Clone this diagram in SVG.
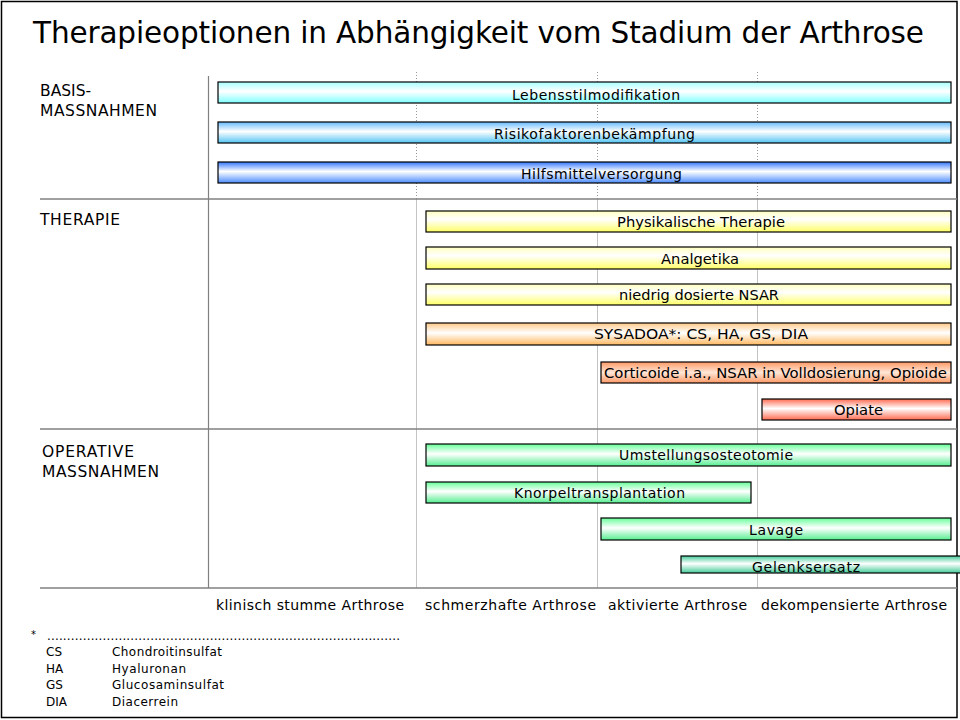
<svg xmlns="http://www.w3.org/2000/svg" width="960" height="720" viewBox="0 0 960 720">
<style>
text{font-family:"DejaVu Sans","Verdana",sans-serif;fill:#000}
.title{font-size:29.5px}
.sec{font-size:15.5px}
.bl{font-size:14px;text-anchor:middle}
.st{font-size:14px}
.lg{font-size:12px}
.bar{stroke:#000;stroke-width:1.2}
.sep{stroke:#808080;stroke-width:1.5}
.dot{stroke:#9a9a9a;stroke-width:1;stroke-dasharray:1 2}
.vl{stroke:#c4c4c4;stroke-width:1}
</style>
<defs>
<linearGradient id="gCyan" x1="0" y1="0" x2="0" y2="1"><stop offset="0" stop-color="#a8ffff"/><stop offset="0.45" stop-color="#ffffff"/><stop offset="1" stop-color="#80ffff"/></linearGradient>
<linearGradient id="gLBlue" x1="0" y1="0" x2="0" y2="1"><stop offset="0" stop-color="#66bbff"/><stop offset="0.45" stop-color="#ffffff"/><stop offset="1" stop-color="#55c4f4"/></linearGradient>
<linearGradient id="gBlue" x1="0" y1="0" x2="0" y2="1"><stop offset="0" stop-color="#3377ff"/><stop offset="0.45" stop-color="#ffffff"/><stop offset="1" stop-color="#4d8dff"/></linearGradient>
<linearGradient id="gYellow" x1="0" y1="0" x2="0" y2="1"><stop offset="0" stop-color="#ffffc0"/><stop offset="0.4" stop-color="#ffffff"/><stop offset="1" stop-color="#ffff66"/></linearGradient>
<linearGradient id="gOrange" x1="0" y1="0" x2="0" y2="1"><stop offset="0" stop-color="#ffc888"/><stop offset="0.45" stop-color="#ffffff"/><stop offset="1" stop-color="#ffb860"/></linearGradient>
<linearGradient id="gSalmon" x1="0" y1="0" x2="0" y2="1"><stop offset="0" stop-color="#ff9966"/><stop offset="0.5" stop-color="#ffe6d6"/><stop offset="1" stop-color="#ff9966"/></linearGradient>
<linearGradient id="gRed" x1="0" y1="0" x2="0" y2="1"><stop offset="0" stop-color="#ff6a50"/><stop offset="0.45" stop-color="#ffffff"/><stop offset="1" stop-color="#ff6a50"/></linearGradient>
<linearGradient id="gGreen" x1="0" y1="0" x2="0" y2="1"><stop offset="0" stop-color="#66ff99"/><stop offset="0.45" stop-color="#ffffff"/><stop offset="1" stop-color="#55ee90"/></linearGradient>
<linearGradient id="gTeal" x1="0" y1="0" x2="0" y2="1"><stop offset="0" stop-color="#44cc99"/><stop offset="0.45" stop-color="#ffffff"/><stop offset="1" stop-color="#44cc99"/></linearGradient>
</defs>
<rect x="0" y="0" width="960" height="720" fill="#fff"/>
<rect x="1.5" y="1.5" width="955.5" height="716" fill="none" stroke="#000" stroke-width="1.5"/>
<text class="title" x="33" y="43" textLength="891" lengthAdjust="spacing">Therapieoptionen  in Abhängigkeit vom Stadium der Arthrose</text>

<g id="grid">
<line class="dot" x1="416.5" y1="72" x2="416.5" y2="199"/>
<line class="dot" x1="597.5" y1="72" x2="597.5" y2="199"/>
<line class="dot" x1="757.5" y1="72" x2="757.5" y2="199"/>
<line class="vl" x1="416.5" y1="199" x2="416.5" y2="588"/>
<line class="vl" x1="597.5" y1="199" x2="597.5" y2="588"/>
<line class="vl" x1="757.5" y1="199" x2="757.5" y2="588"/>
<line x1="208.5" y1="76" x2="208.5" y2="588" stroke="#808080" stroke-width="1.2"/>
<line class="sep" x1="40" y1="199" x2="957" y2="199"/>
<line class="sep" x1="40" y1="429" x2="957" y2="429"/>
<line class="sep" x1="40" y1="588" x2="957" y2="588"/>
</g>

<g id="sections">
<text class="sec" x="40" y="96">BASIS-</text>
<text class="sec" x="40" y="116" textLength="117">MASSNAHMEN</text>
<text class="sec" x="40" y="225" textLength="80">THERAPIE</text>
<text class="sec" x="42" y="457" textLength="92">OPERATIVE</text>
<text class="sec" x="42" y="477" textLength="117">MASSNAHMEN</text>
</g>

<g id="n-lebensstil"><rect class="bar" x="218" y="82" width="733" height="21" fill="url(#gCyan)"/><text class="bl" x="596" y="100" textLength="168">Lebensstilmodifikation</text></g>
<g id="n-risiko"><rect class="bar" x="218" y="122" width="733" height="21" fill="url(#gLBlue)"/><text class="bl" x="594.5" y="139" textLength="201">Risikofaktorenbekämpfung</text></g>
<g id="n-hilfsmittel"><rect class="bar" x="218" y="162" width="733" height="21" fill="url(#gBlue)"/><text class="bl" x="601.5" y="179" textLength="161">Hilfsmittelversorgung</text></g>

<g id="n-physik"><rect class="bar" x="426" y="211" width="525" height="21" fill="url(#gYellow)"/><text class="bl" x="701" y="227" textLength="168" lengthAdjust="spacingAndGlyphs">Physikalische Therapie</text></g>
<g id="n-analgetika"><rect class="bar" x="426" y="247" width="525" height="22" fill="url(#gYellow)"/><text class="bl" x="700" y="264" textLength="78" lengthAdjust="spacingAndGlyphs">Analgetika</text></g>
<g id="n-nsar"><rect class="bar" x="426" y="284" width="525" height="21" fill="url(#gYellow)"/><text class="bl" x="699" y="300" textLength="160" lengthAdjust="spacingAndGlyphs">niedrig dosierte NSAR</text></g>
<g id="n-sysadoa"><rect class="bar" x="426" y="323" width="525" height="22" fill="url(#gOrange)"/><text class="bl" x="701" y="339" textLength="214" lengthAdjust="spacingAndGlyphs">SYSADOA*: CS, HA, GS, DIA</text></g>
<g id="n-corticoide"><rect class="bar" x="601" y="362" width="350" height="21" fill="url(#gSalmon)"/><text class="bl" x="775.5" y="378" textLength="343" lengthAdjust="spacingAndGlyphs">Corticoide i.a., NSAR in Volldosierung, Opioide</text></g>
<g id="n-opiate"><rect class="bar" x="762" y="399" width="189" height="21" fill="url(#gRed)"/><text class="bl" x="858.5" y="415" textLength="49" lengthAdjust="spacingAndGlyphs">Opiate</text></g>

<g id="n-umstellung"><rect class="bar" x="426" y="444" width="525" height="22" fill="url(#gGreen)"/><text class="bl" x="706" y="460" textLength="174">Umstellungsosteotomie</text></g>
<g id="n-knorpel"><rect class="bar" x="426" y="482" width="325" height="21" fill="url(#gGreen)"/><text class="bl" x="599.5" y="498" textLength="171">Knorpeltransplantation</text></g>
<g id="n-lavage"><rect class="bar" x="601" y="518" width="350" height="22" fill="url(#gGreen)"/><text class="bl" x="776" y="535" textLength="54">Lavage</text></g>
<g id="n-gelenk"><rect class="bar" x="681" y="556" width="290" height="17" fill="url(#gTeal)"/><text class="bl" x="806" y="572" textLength="108">Gelenksersatz</text></g>

<g id="stages">
<text class="st" x="216" y="610" textLength="188">klinisch stumme Arthrose</text>
<text class="st" x="425" y="610" textLength="171">schmerzhafte Arthrose</text>
<text class="st" x="608" y="610" textLength="139">aktivierte Arthrose</text>
<text class="st" x="761" y="610" textLength="186">dekompensierte Arthrose</text>
</g>

<g id="legend">
<text x="31" y="638" style="font-size:10px">*</text>
<text class="lg" x="47" y="640" textLength="353" lengthAdjust="spacing">.........................................................................................</text>
<text class="lg" x="46" y="656">CS</text><text class="lg" x="112" y="656" textLength="110">Chondroitinsulfat</text>
<text class="lg" x="46" y="672.5">HA</text><text class="lg" x="112" y="672.5" textLength="74">Hyaluronan</text>
<text class="lg" x="46" y="689">GS</text><text class="lg" x="112" y="689" textLength="112">Glucosaminsulfat</text>
<text class="lg" x="46" y="705.5">DIA</text><text class="lg" x="112" y="705.5" textLength="66">Diacerrein</text>
</g>
</svg>
